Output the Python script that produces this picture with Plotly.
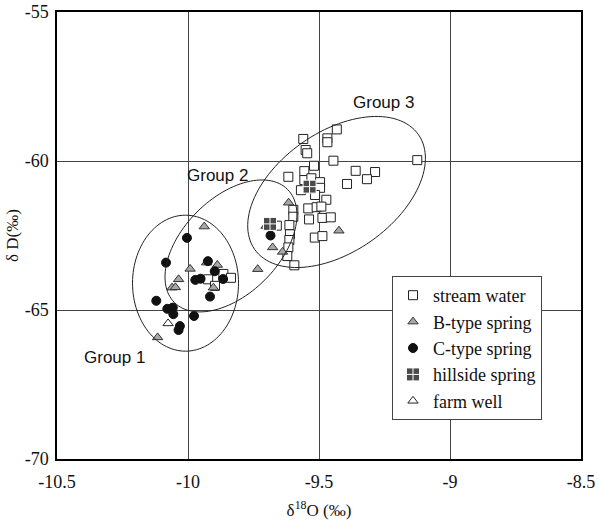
import numpy as np
import plotly.graph_objects as go

# ---------------- data ----------------
stream_x = [-9.432, -9.468, -9.468, -9.560, -9.551, -9.545, -9.519, -9.445, -9.125, -9.360,
            -9.286, -9.317, -9.393, -9.556, -9.617, -9.556, -9.529, -9.496, -9.569, -9.496,
            -9.515, -9.472, -9.541, -9.509, -9.491, -9.598, -9.598, -9.538, -9.487, -9.455,
            -9.613, -9.661, -9.611, -9.613, -9.516, -9.487, -9.617, -9.594, -9.621, -9.923,
            -9.865, -9.836, -9.897]
stream_y = [-58.94, -59.24, -59.37, -59.26, -59.63, -59.74, -60.16, -59.99, -59.97, -60.33,
            -60.37, -60.61, -60.77, -60.34, -60.53, -60.64, -60.58, -60.71, -60.98, -60.90,
            -61.14, -61.30, -61.59, -61.55, -61.53, -61.64, -61.87, -61.96, -61.91, -61.89,
            -62.15, -62.17, -62.46, -62.65, -62.57, -62.52, -62.90, -63.50, -63.19, -63.97,
            -63.79, -63.92, -64.19]

btype_x = [-9.616, -9.424, -9.677, -9.639, -9.734, -9.702, -9.938, -9.992, -10.036, -10.061,
           -10.048, -9.888, -9.929, -9.903, -10.116]
btype_y = [-61.40, -62.34, -62.90, -63.05, -63.63, -62.18, -62.20, -63.62, -63.97, -64.25,
           -64.24, -63.49, -63.41, -64.25, -65.92]

ctype_x = [-10.004, -10.084, -9.924, -9.898, -9.972, -9.952, -9.866, -9.916, -10.121, -10.079,
           -10.058, -10.056, -9.977, -10.031, -10.036, -9.685]
ctype_y = [-62.58, -63.41, -63.36, -63.70, -63.99, -63.95, -63.96, -64.55, -64.69, -64.96,
           -64.92, -65.14, -65.20, -65.54, -65.67, -62.50]

hill_x = [-9.536, -9.687]
hill_y = [-60.86, -62.11]

farm_x = [-10.076]
farm_y = [-65.45]

x_ticks = [-10.5, -10, -9.5, -9, -8.5]
x_ticklabels = ["-10.5", "-10", "-9.5", "-9", "-8.5"]
y_ticks = [-70, -65, -60, -55]
y_ticklabels = ["-70", "-65", "-60", "-55"]

group_names = ["Group 1", "Group 2", "Group 3"]
group_label_x = [-10.281, -9.887, -9.252]
group_label_y = [-66.58, -60.49, -58.05]
# ellipse: centre (data), semi-axes (px on screen), rotation (deg on screen)
ell_cx = [-10.0095, -9.836, -9.433]
ell_cy = [-64.10, -62.85, -61.04]
ell_a = [53, 80, 100]
ell_b = [68, 48, 60]
ell_rot = [0, 45, 35]

# ---------------- layout geometry ----------------
W, H = 599, 524
ML, MR, MT, MB = 57, 18, 12, 65
XR = [-10.5, -8.5]
YR = [-70, -55]
PW = W - ML - MR
PH = H - MT - MB
px_x = PW / (XR[1] - XR[0])
px_y = PH / (YR[1] - YR[0])

SERIF = "Liberation Serif"
SANS = "Liberation Sans"

fig = go.Figure()

def add(x, y, name, symbol, size, color, lcolor, lw=1):
    fig.add_trace(go.Scatter(
        x=x, y=y, mode="markers", name=name,
        marker=dict(symbol=symbol, size=size, color=color,
                    line=dict(color=lcolor, width=lw))))

add(stream_x, stream_y, "stream water", "square", 9, "white", "#222", 1)
add(btype_x, btype_y, "B-type spring", "triangle-up", 9, "#a8a8a8", "#333", 1)
add(ctype_x, ctype_y, "C-type spring", "circle", 9, "#111", "#111", 1)
add(hill_x, hill_y, "hillside spring", "square-cross", 13, "#4a4a4a", "white", 1)
add(farm_x, farm_y, "farm well", "triangle-up", 9, "white", "#222", 1)

# ellipses
t = np.linspace(0, 2 * np.pi, 121)
for cx, cy, a, b, r in zip(ell_cx, ell_cy, ell_a, ell_b, ell_rot):
    th = np.deg2rad(r)
    u = a * np.cos(t)
    v = b * np.sin(t)
    dx = u * np.cos(th) - v * np.sin(th)
    dy = u * np.sin(th) + v * np.cos(th)
    xs = cx + dx / px_x
    ys = cy + dy / px_y
    path = "M " + " L ".join(f"{xx:.5f},{yy:.5f}" for xx, yy in zip(xs, ys)) + " Z"
    fig.add_shape(type="path", path=path, xref="x", yref="y",
                  line=dict(color="#222", width=1))

for name, gx, gy in zip(group_names, group_label_x, group_label_y):
    fig.add_annotation(x=gx, y=gy, text=name, showarrow=False,
                       font=dict(family=SANS, size=17, color="#111"))

fig.update_xaxes(range=XR, tickvals=x_ticks, ticktext=x_ticklabels,
                 showgrid=True, gridcolor="#444", gridwidth=1, zeroline=False,
                 showline=True, linecolor="black", linewidth=1.5, mirror=True,
                 ticks="outside", ticklen=6, tickcolor="rgba(0,0,0,0)",
                 ticklabeloverflow="allow",
                 tickfont=dict(family=SERIF, size=18, color="#111"),
                 title=dict(text="δ<sup>18</sup>O (‰)", standoff=13,
                            font=dict(family=SERIF, size=17, color="#111")))
fig.update_yaxes(range=YR, tickvals=y_ticks, ticktext=y_ticklabels,
                 showgrid=True, gridcolor="#444", gridwidth=1, zeroline=False,
                 showline=True, linecolor="black", linewidth=1.5, mirror=True,
                 ticks="outside", ticklen=3, tickcolor="rgba(0,0,0,0)",
                 ticklabeloverflow="allow",
                 tickfont=dict(family=SERIF, size=18, color="#111"),
                 title=dict(text="δ D(‰)", standoff=2,
                            font=dict(family=SERIF, size=17, color="#111")))

fig.update_layout(
    width=W, height=H,
    margin=dict(l=ML, r=MR, t=MT, b=MB, autoexpand=False),
    paper_bgcolor="white", plot_bgcolor="white",
    legend=dict(x=(392 - ML) / PW, y=(MT + PH - 276) / PH,
                xanchor="left", yanchor="top",
                bgcolor="white", bordercolor="#444", borderwidth=1,
                font=dict(family=SERIF, size=18, color="#111"),
                tracegroupgap=0, itemsizing="trace"),
)

fig.write_html("out.html",
               config={"displayModeBar": False},
               post_script="document.body.style.margin='0px';document.body.style.overflow='hidden';")
